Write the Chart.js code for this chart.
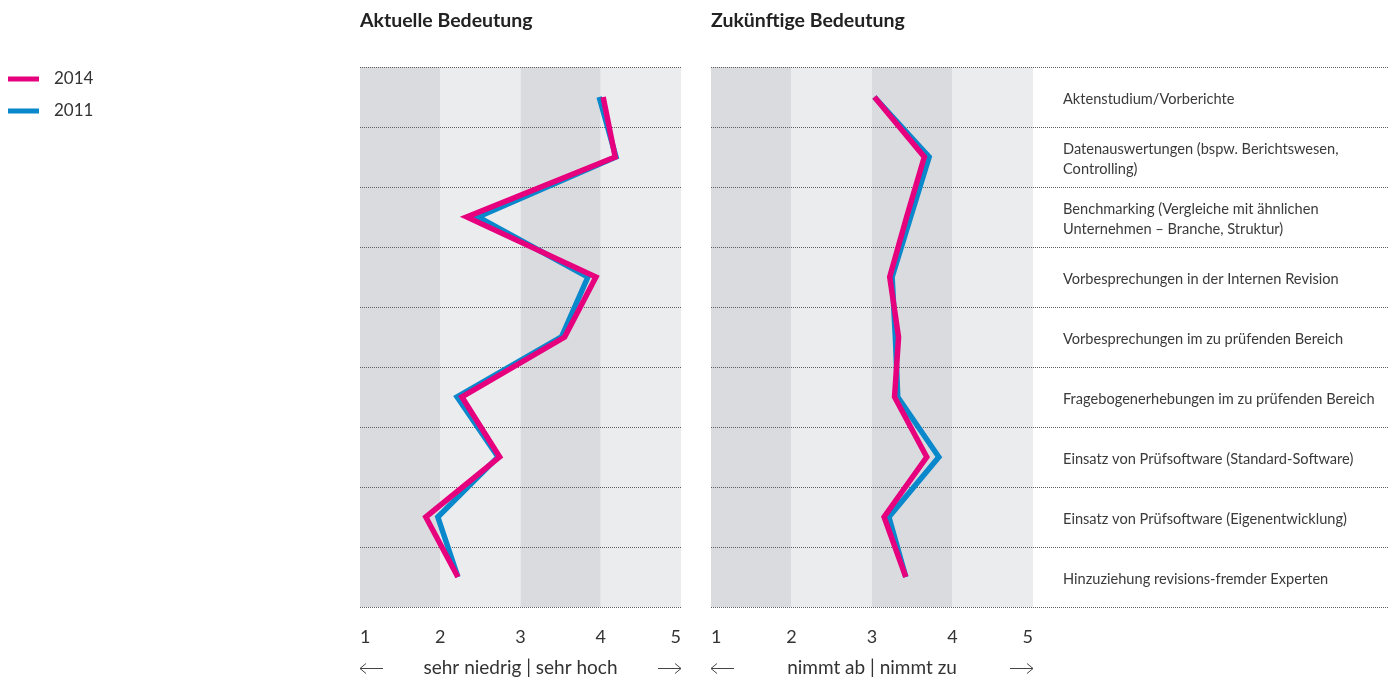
<!DOCTYPE html>
<html>
<head>
<meta charset="utf-8">
<script src="https://cdn.jsdelivr.net/npm/chart.js@4/dist/chart.umd.min.js"></script>
<style>
  html, body { margin: 0; padding: 0; background: #ffffff; }
  body { width: 1393px; height: 681px; position: relative; overflow: hidden; }
  #wrapLeft { position: absolute; left: 0; top: 0; width: 700px; height: 681px; }
  #wrapRight { position: absolute; left: 690px; top: 0; width: 703px; height: 681px; }
</style>
</head>
<body>
<div id="wrapLeft"><canvas id="chartLeft"></canvas></div>
<div id="wrapRight"><canvas id="chartRight"></canvas></div>
<script>
// ---------- data ----------
const categories = [
  'Aktenstudium/Vorberichte',
  ['Datenauswertungen (bspw. Berichtswesen,', 'Controlling)'],
  ['Benchmarking (Vergleiche mit ähnlichen', 'Unternehmen – Branche, Struktur)'],
  'Vorbesprechungen in der Internen Revision',
  'Vorbesprechungen im zu prüfenden Bereich',
  'Fragebogenerhebungen im zu prüfenden Bereich',
  'Einsatz von Prüfsoftware (Standard-Software)',
  'Einsatz von Prüfsoftware (Eigenentwicklung)',
  'Hinzuziehung revisions-fremder Experten'
];
const seriesLabels = ['2014', '2011'];
const aktuell2014 = [4.03, 4.18, 2.33, 3.94, 3.55, 2.27, 2.74, 1.82, 2.22];
const aktuell2011 = [3.98, 4.19, 2.47, 3.84, 3.51, 2.21, 2.72, 1.97, 2.22];
const zukunft2014 = [3.03, 3.65, 3.43, 3.22, 3.33, 3.28, 3.68, 3.15, 3.42];
const zukunft2011 = [3.03, 3.71, 3.48, 3.25, 3.29, 3.32, 3.83, 3.21, 3.42];
const xTickLabels = ['1', '2', '3', '4', '5'];
const titles = ['Aktuelle Bedeutung', 'Zukünftige Bedeutung'];
const axisTitles = ['sehr niedrig | sehr hoch', 'nimmt ab | nimmt zu'];

// ---------- styles ----------
const PINK = '#e6007e';
const BLUE = '#0a88cc';
const BAND_DARK = '#dadbdf';
const BAND_LIGHT = '#ebecee';
const TEXT = '#333333';
const FONT = 'Lato, "Open Sans", sans-serif';

Chart.defaults.font.family = FONT;
Chart.defaults.color = TEXT;

function makeDatasets(v2014, v2011) {
  return [
    { label: seriesLabels[0], data: v2014, borderColor: PINK, backgroundColor: PINK,
      borderWidth: 5.5, pointRadius: 0, tension: 0, borderJoinStyle: 'miter', borderCapStyle: 'butt', fill: false },
    { label: seriesLabels[1], data: v2011, borderColor: BLUE, backgroundColor: BLUE,
      borderWidth: 5.5, pointRadius: 0, tension: 0, borderJoinStyle: 'miter', borderCapStyle: 'butt', fill: false }
  ];
}

// background bands + dotted row separators
const bandsPlugin = {
  id: 'bands',
  beforeDatasetsDraw(chart, args, opts) {
    const { ctx, chartArea } = chart;
    const xs = chart.scales.x, ys = chart.scales.y;
    ctx.save();
    for (let v = 1; v < 5; v++) {
      const x0 = xs.getPixelForValue(v), x1 = xs.getPixelForValue(v + 1);
      ctx.fillStyle = (v % 2 === 1) ? BAND_DARK : BAND_LIGHT;
      ctx.fillRect(x0, chartArea.top, x1 - x0, chartArea.bottom - chartArea.top);
    }
    const step = ys.getPixelForValue(1) - ys.getPixelForValue(0);
    const right = opts.extendTo ? opts.extendTo : chartArea.right;
    ctx.strokeStyle = '#5f5f5f';
    ctx.lineWidth = 1;
    ctx.setLineDash([1, 1]);
    for (let i = 0; i <= categories.length; i++) {
      const y = Math.round(ys.getPixelForValue(i) - step / 2) + 0.5;
      ctx.beginPath();
      ctx.moveTo(chartArea.left, y);
      ctx.lineTo(right, y);
      ctx.stroke();
    }
    ctx.restore();
  }
};

// titles, arrows, axis title, legend
const decoPlugin = {
  id: 'deco',
  afterDraw(chart, args, opts) {
    const { ctx, chartArea } = chart;
    ctx.save();
    // title
    ctx.fillStyle = '#222';
    ctx.font = 'bold 19.5px ' + FONT;
    ctx.textBaseline = 'middle';
    ctx.textAlign = 'left';
    ctx.fillText(opts.title, chartArea.left, 21);
    // axis title
    const yT = 668;
    ctx.font = '19px ' + FONT;
    ctx.fillStyle = TEXT;
    ctx.textAlign = 'center';
    ctx.fillText(opts.axisTitle, (chartArea.left + chartArea.right) / 2, yT);
    // arrows
    ctx.strokeStyle = '#444';
    ctx.lineWidth = 1;
    const aw = 23, ah = 5;
    const L = chartArea.left, R = chartArea.right;
    ctx.beginPath();
    ctx.moveTo(L, yT + 0.5); ctx.lineTo(L + aw, yT + 0.5);
    ctx.moveTo(L + ah + 1, yT + 0.5 - ah); ctx.lineTo(L, yT + 0.5); ctx.lineTo(L + ah + 1, yT + 0.5 + ah);
    ctx.moveTo(R - aw, yT + 0.5); ctx.lineTo(R, yT + 0.5);
    ctx.moveTo(R - ah - 1, yT + 0.5 - ah); ctx.lineTo(R, yT + 0.5); ctx.lineTo(R - ah - 1, yT + 0.5 + ah);
    ctx.stroke();
    // legend
    if (opts.legend) {
      const ys = [79, 111];
      chart.data.datasets.forEach((ds, i) => {
        ctx.fillStyle = ds.borderColor;
        ctx.fillRect(8, ys[i] - 2.5, 31, 5);
        ctx.fillStyle = TEXT;
        ctx.font = '17px ' + FONT;
        ctx.textAlign = 'left';
        ctx.fillText(ds.label, 54, ys[i]);
      });
    }
    ctx.restore();
  }
};

function xScale() {
  return {
    type: 'linear', position: 'bottom', min: 1, max: 5,
    grid: { display: false, drawTicks: false },
    border: { display: false },
    afterFit(s) { s.height = 74; },
    ticks: {
      stepSize: 1, align: 'inner', padding: 19, color: TEXT,
      font: { size: 18, family: FONT },
      callback: (v, i) => xTickLabels[i]
    }
  };
}

new Chart(document.getElementById('chartLeft'), {
  type: 'line',
  data: { labels: categories, datasets: makeDatasets(aktuell2014, aktuell2011) },
  options: {
    indexAxis: 'y', responsive: true, maintainAspectRatio: false, animation: false,
    devicePixelRatio: 1,
    layout: { padding: { left: 360, right: 17, top: 67, bottom: 0 } },
    plugins: { legend: { display: false }, tooltip: { enabled: false },
      bands: {}, deco: { title: titles[0], axisTitle: axisTitles[0], legend: true } },
    scales: {
      x: xScale(),
      y: { type: 'category', offset: true, display: false }
    }
  },
  plugins: [bandsPlugin, decoPlugin]
});

new Chart(document.getElementById('chartRight'), {
  type: 'line',
  data: { labels: categories, datasets: makeDatasets(zukunft2014, zukunft2011) },
  options: {
    indexAxis: 'y', responsive: true, maintainAspectRatio: false, animation: false,
    devicePixelRatio: 1,
    layout: { padding: { left: 21, right: 0, top: 67, bottom: 0 } },
    plugins: { legend: { display: false }, tooltip: { enabled: false },
      bands: { extendTo: 698 }, deco: { title: titles[1], axisTitle: axisTitles[1], legend: false } },
    scales: {
      x: xScale(),
      y: {
        type: 'category', offset: true, position: 'right',
        grid: { display: false, drawTicks: false },
        border: { display: false },
        afterFit(s) { s.width = 360; },
        ticks: { padding: 30, labelOffset: 2, color: '#3a3a3a', font: { size: 14.6, family: FONT, lineHeight: 1.37 } }
      }
    }
  },
  plugins: [bandsPlugin, decoPlugin]
});
</script>
</body>
</html>
